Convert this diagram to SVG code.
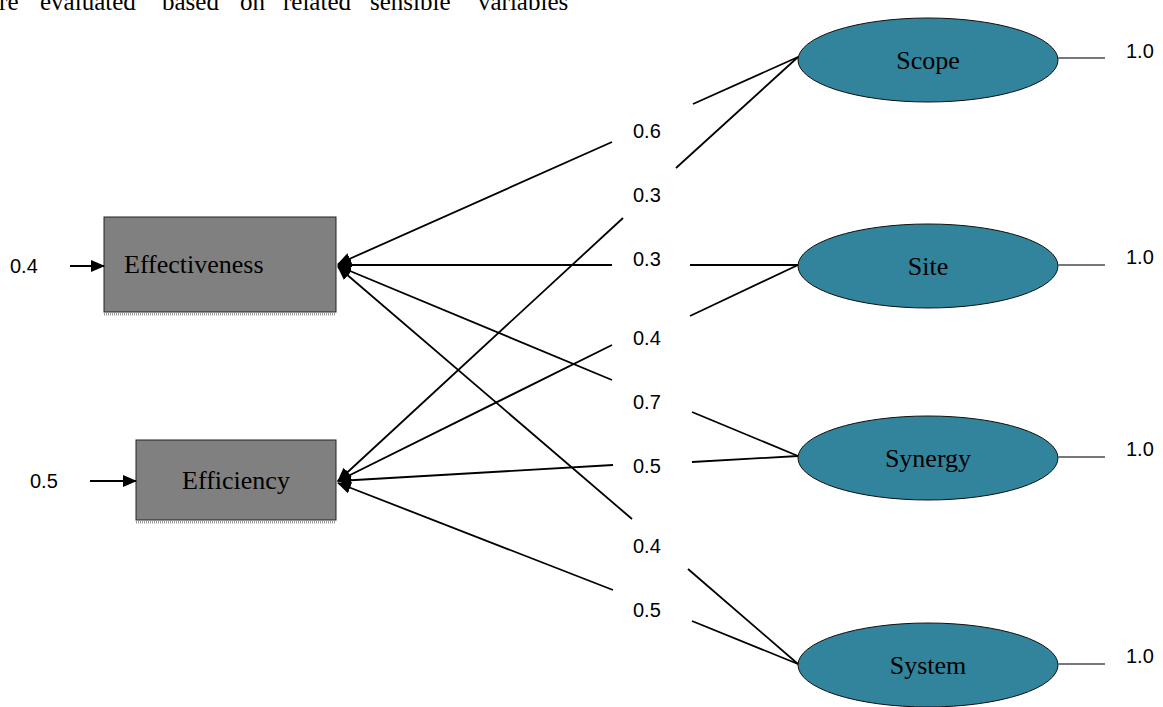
<svg xmlns="http://www.w3.org/2000/svg" width="1163" height="707" viewBox="0 0 1163 707">
<style>
.serif{font-family:"Liberation Serif","Times New Roman",serif;font-size:26px;fill:#000}
.top{font-family:"Liberation Serif","Times New Roman",serif;font-size:25px;fill:#000}
.lbl{font-family:"Liberation Sans",Arial,sans-serif;font-size:20px;fill:#000}
.box{fill:#808080;stroke:#222;stroke-width:1}
.shadow{stroke:#999;stroke-width:3;stroke-dasharray:1 1}
.ell{fill:#31849B;stroke:#111;stroke-width:1}
.c{stroke:#000;stroke-width:1.8;fill:none}
.g{stroke:#777;stroke-width:1.8;fill:none}
</style>
<defs>
<marker id="ah" viewBox="0 0 14 12" refX="13" refY="6" markerWidth="14" markerHeight="12" markerUnits="userSpaceOnUse" orient="auto">
<path d="M0,0 L14,6 L0,12 Z" fill="#000"/>
</marker>
</defs>
<rect width="1163" height="707" fill="#fff"/>
<text class="top" y="10"><tspan x="-12">are</tspan><tspan x="40">evaluated</tspan><tspan x="162">based</tspan><tspan x="240">on</tspan><tspan x="283">related</tspan><tspan x="370">sensible</tspan><tspan x="478">variables</tspan></text>

<g id="effectiveness">
<rect class="box" x="104" y="217" width="232" height="95"/>
<line class="shadow" x1="104" y1="314" x2="336" y2="314"/>
<text class="serif" x="124" y="273">Effectiveness</text>
</g>
<g id="efficiency">
<rect class="box" x="136" y="440" width="200" height="80"/>
<line class="shadow" x1="136" y1="522" x2="336" y2="522"/>
<text class="serif" x="236" y="489" text-anchor="middle">Efficiency</text>
</g>
<g id="scope">
<ellipse class="ell" cx="928" cy="60" rx="130" ry="42"/>
<text class="serif" x="928" y="69" text-anchor="middle">Scope</text>
</g>
<g id="site">
<ellipse class="ell" cx="928" cy="266" rx="130" ry="42"/>
<text class="serif" x="928" y="275" text-anchor="middle">Site</text>
</g>
<g id="synergy">
<ellipse class="ell" cx="928" cy="458" rx="130" ry="42"/>
<text class="serif" x="928" y="467" text-anchor="middle">Synergy</text>
</g>
<g id="system">
<ellipse class="ell" cx="928" cy="665" rx="130" ry="42"/>
<text class="serif" x="928" y="674" text-anchor="middle">System</text>
</g>

<g id="connectors">
<line class="c" x1="798" y1="57" x2="693" y2="104"/>
<line class="c" x1="612" y1="142" x2="338" y2="264" marker-end="url(#ah)"/>
<line class="c" x1="798" y1="57" x2="676" y2="168"/>
<line class="c" x1="623" y1="218" x2="338" y2="481" marker-end="url(#ah)"/>
<line class="c" x1="798" y1="265" x2="690" y2="265"/>
<line class="c" x1="612" y1="265" x2="338" y2="265" marker-end="url(#ah)"/>
<line class="c" x1="798" y1="265" x2="690" y2="316"/>
<line class="c" x1="612" y1="345" x2="338" y2="481" marker-end="url(#ah)"/>
<line class="c" x1="798" y1="456" x2="692" y2="412"/>
<line class="c" x1="612" y1="380" x2="338" y2="266" marker-end="url(#ah)"/>
<line class="c" x1="798" y1="456" x2="692" y2="462"/>
<line class="c" x1="613" y1="465" x2="338" y2="481" marker-end="url(#ah)"/>
<line class="c" x1="798" y1="664" x2="688" y2="569"/>
<line class="c" x1="632" y1="519" x2="338" y2="267" marker-end="url(#ah)"/>
<line class="c" x1="798" y1="664" x2="692" y2="621"/>
<line class="c" x1="613" y1="590" x2="338" y2="483" marker-end="url(#ah)"/>
<line class="c" x1="70" y1="266" x2="104" y2="266" marker-end="url(#ah)"/>
<line class="c" x1="90" y1="481" x2="136" y2="481" marker-end="url(#ah)"/>
<line class="g" x1="1058" y1="58" x2="1105" y2="58"/>
<line class="g" x1="1058" y1="265" x2="1105" y2="265"/>
<line class="g" x1="1058" y1="457" x2="1105" y2="457"/>
<line class="g" x1="1058" y1="664" x2="1105" y2="664"/>
</g>

<g id="labels">
<text class="lbl" x="633" y="138">0.6</text>
<text class="lbl" x="633" y="202">0.3</text>
<text class="lbl" x="633" y="266">0.3</text>
<text class="lbl" x="633" y="345">0.4</text>
<text class="lbl" x="633" y="409">0.7</text>
<text class="lbl" x="633" y="473">0.5</text>
<text class="lbl" x="633" y="553">0.4</text>
<text class="lbl" x="633" y="617">0.5</text>
<text class="lbl" x="10" y="273">0.4</text>
<text class="lbl" x="30" y="488">0.5</text>
<text class="lbl" x="1126" y="58">1.0</text>
<text class="lbl" x="1126" y="264">1.0</text>
<text class="lbl" x="1126" y="456">1.0</text>
<text class="lbl" x="1126" y="663">1.0</text>
</g>
</svg>
